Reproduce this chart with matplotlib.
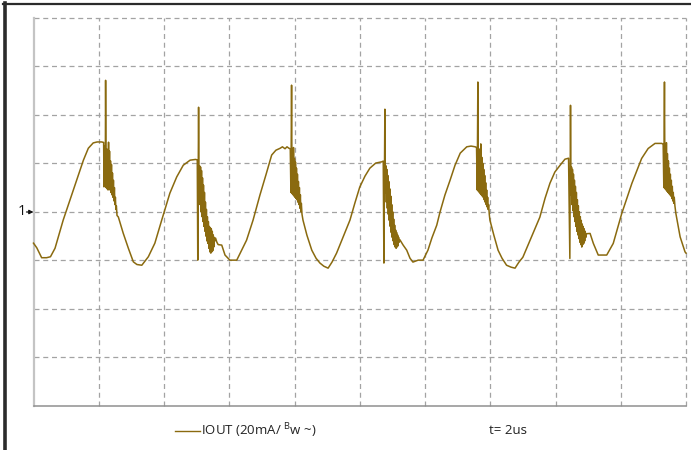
import matplotlib
matplotlib.use("Agg")
import matplotlib.pyplot as plt
from matplotlib.lines import Line2D

# Scope capture of the output current, 2 us/div and 20 mA/div.
# One line per stretch of the trace: ramps, then the ringing after each switching edge.
time_us = [
    0.00, 0.10, 0.25, 0.40, 0.52, 0.66, 0.91, 1.22, 1.53, 1.68, 1.83, 1.95, 2.09, 2.15,
    2.16, 2.18, 2.20, 2.21, 2.225, 2.24, 2.255, 2.27, 2.285, 2.30, 2.315, 2.33, 2.345, 2.36, 2.375,
    2.39, 2.405, 2.42, 2.435, 2.45, 2.465, 2.48, 2.495, 2.51, 2.525, 2.54, 2.56,
    2.60, 2.75, 2.91, 3.06, 3.17, 3.32, 3.52, 3.72, 3.93, 4.18, 4.39, 4.59, 4.80, 4.97,
    5.02, 5.035, 5.06, 5.075, 5.09, 5.105, 5.12, 5.135, 5.15, 5.165, 5.18, 5.195, 5.21, 5.225,
    5.24, 5.255, 5.27, 5.285, 5.30, 5.315, 5.33, 5.345, 5.36, 5.375, 5.39, 5.405, 5.42, 5.435,
    5.45, 5.465, 5.48, 5.495, 5.51, 5.525, 5.54, 5.56, 5.58, 5.62, 5.66,
    5.77, 5.87, 6.02, 6.23, 6.38, 6.53, 6.73, 6.94, 7.13, 7.30, 7.43, 7.56, 7.63, 7.71, 7.77, 7.83, 7.87,
    7.89, 7.91, 7.925, 7.94, 7.955, 7.97, 7.985, 8.00, 8.015, 8.03, 8.045, 8.06, 8.075, 8.09,
    8.105, 8.12, 8.135, 8.15, 8.165, 8.18, 8.195, 8.21, 8.23,
    8.26, 8.38, 8.53, 8.66, 8.78, 8.90, 9.03, 9.15, 9.29, 9.49, 9.70, 9.85, 10.00, 10.16, 10.31,
    10.49, 10.67, 10.72,
    10.74, 10.77, 10.785, 10.80, 10.815, 10.83, 10.845, 10.86, 10.875, 10.89, 10.905, 10.92,
    10.935, 10.95, 10.965, 10.98, 10.995, 11.01, 11.025, 11.04, 11.055, 11.07, 11.085, 11.10,
    11.115, 11.13, 11.145, 11.16, 11.175, 11.19, 11.21, 11.23,
    11.33, 11.44, 11.54, 11.63, 11.79, 11.94, 12.09, 12.21, 12.36, 12.46, 12.61, 12.77, 12.92,
    13.08, 13.28, 13.41, 13.54, 13.58,
    13.60, 13.62, 13.635, 13.65, 13.665, 13.68, 13.695, 13.71, 13.725, 13.74, 13.755, 13.77,
    13.785, 13.80, 13.815, 13.83, 13.845, 13.86, 13.875, 13.89, 13.905, 13.92, 13.935, 13.95, 13.97,
    13.99, 14.11, 14.24, 14.36, 14.50, 14.64, 14.76, 14.88, 15.00, 15.22, 15.52, 15.68, 15.83,
    15.98, 16.14, 16.29, 16.40,
    16.44, 16.46, 16.475, 16.49, 16.505, 16.52, 16.535, 16.55, 16.565, 16.58, 16.595, 16.61,
    16.625, 16.64, 16.655, 16.67, 16.685, 16.70, 16.715, 16.73, 16.745, 16.76, 16.775, 16.79,
    16.805, 16.82, 16.835, 16.85, 16.865, 16.88, 16.895, 16.91, 16.93, 16.95,
    17.06, 17.16, 17.31, 17.57, 17.77, 18.03, 18.34, 18.64, 18.84, 19.05, 19.26, 19.30,
    19.32, 19.34, 19.355, 19.37, 19.385, 19.40, 19.415, 19.43, 19.445, 19.46, 19.475, 19.49,
    19.505, 19.52, 19.535, 19.55, 19.565, 19.58, 19.595, 19.61, 19.625, 19.64, 19.66,
    19.69, 19.82, 19.97, 20.00,
]
iout_ma = [
    -12.9, -14.8, -18.9, -18.9, -18.5, -15.0, -3.4, 8.9, 21.3, 26.2, 28.4, 28.8, 28.8, 28.6,
    10.3, 27.0, 12.0, 54.2, 10.0, 26.0, 9.5, 24.0, 9.0, 28.7, 10.5, 25.0, 9.0, 21.0, 8.0,
    19.5, 7.0, 16.0, 6.0, 13.0, 4.5, 10.0, 3.0, 6.0, 1.0, 2.5, -1.5,
    -2.1, -8.8, -15.1, -20.6, -21.7, -22.0, -18.5, -12.9, -3.4, 7.7, 14.4, 19.2, 21.3, 21.6,
    21.4, -19.9, 43.1, 6.0, 19.0, 3.0, 18.5, 0.0, 17.0, -2.0, 14.0, -4.0, 11.0, -6.0,
    8.0, -8.0, 4.0, -10.0, 1.0, -12.0, -2.0, -13.0, -4.0, -15.0, -6.0, -16.5, -6.5, -17.0,
    -7.0, -16.5, -8.0, -16.0, -9.5, -14.5, -10.5, -12.0, -10.8, -12.5, -13.5,
    -13.7, -17.8, -19.9, -19.9, -15.8, -11.7, -3.4, 6.9, 15.5, 23.4, 25.4, 26.2, 26.8, 26.0, 26.8, 26.2, 26.0,
    8.0, 52.2, 7.5, 25.4, 7.0, 26.5, 6.5, 22.0, 6.0, 20.5, 5.5, 18.0, 5.0, 15.5,
    4.0, 12.5, 3.0, 10.0, 1.5, 7.0, 0.0, 3.5, -1.0,
    -3.4, -9.6, -15.8, -19.1, -21.1, -22.4, -23.2, -20.7, -17.0, -10.4, -3.4, 3.6, 10.2, 14.7, 18.0,
    20.1, 20.6, 20.9,
    -21.1, 42.3, 8.0, 19.0, 4.0, 17.5, 1.5, 15.0, -1.0, 12.5, -3.5, 9.5,
    -6.0, 6.5, -8.5, 3.0, -10.5, 0.0, -12.0, -3.0, -13.5, -5.5, -14.5, -7.5,
    -15.0, -8.5, -14.5, -9.5, -14.0, -10.5, -12.5, -11.5,
    -13.7, -15.8, -19.1, -20.7, -19.9, -19.9, -15.8, -10.8, -5.5, -0.1, 6.9, 13.1, 19.2,
    24.2, 26.8, 27.1, 26.8, 26.5,
    9.0, 53.5, 8.5, 26.0, 8.0, 25.0, 7.5, 28.0, 7.0, 22.5, 6.5, 20.0,
    6.0, 17.5, 5.0, 15.0, 4.0, 12.0, 3.0, 9.0, 2.0, 6.0, 1.0, 3.0, -1.0,
    -3.4, -9.6, -15.8, -19.1, -22.0, -22.8, -23.2, -20.7, -18.7, -11.7, -2.2, 5.6, 11.8,
    16.4, 19.2, 21.7, 22.1,
    -19.2, 43.9, 7.0, 18.5, 3.0, 17.5, 0.5, 15.5, -2.0, 13.0, -4.0, 10.5,
    -6.0, 8.0, -8.0, 5.0, -9.5, 2.5, -11.0, 0.0, -12.5, -2.0, -13.5, -3.5,
    -14.5, -5.0, -13.5, -6.0, -13.0, -7.0, -12.0, -8.0, -10.5, -9.0,
    -8.9, -13.0, -17.8, -17.8, -13.0, -0.7, 11.7, 22.0, 26.1, 28.2, 28.2, 27.8,
    10.0, 53.5, 9.5, 26.0, 9.0, 28.5, 8.5, 24.0, 8.0, 21.0, 7.5, 18.0,
    7.0, 15.5, 6.5, 13.0, 5.5, 10.5, 4.5, 8.0, 3.5, 6.0, 2.5,
    -0.7, -10.3, -16.5, -17.0,
]
assert len(time_us) == len(iout_ma)

x_ticks = [0, 2, 4, 6, 8, 10, 12, 14, 16, 18, 20]
y_ticks = [-80, -60, -40, -20, 0, 20, 40, 60, 80]

trace_color = "#8a6a0f"
grid_color = "#a3a3a3"

plt.rcParams["font.family"] = ["Open Sans", "DejaVu Sans"]

W, H = 691, 450
fig = plt.figure(figsize=(W / 100, H / 100), dpi=100)
ax = fig.add_axes([33.5 / W, 1 - 406 / H, (686 - 33.5) / W, (406 - 17.7) / H])
ax.set_xlim(x_ticks[0], x_ticks[-1])
ax.set_ylim(y_ticks[0], y_ticks[-1])

# dashed graticule, including the top and right edges
for xv in x_ticks[1:]:
    ax.axvline(xv, color=grid_color, lw=0.9, ls=(0, (4, 3)), clip_on=False, zorder=1)
for yv in y_ticks[1:]:
    ax.axhline(yv, color=grid_color, lw=0.9, ls=(0, (4, 3)), clip_on=False, zorder=1)

for side in ("top", "right"):
    ax.spines[side].set_visible(False)
ax.spines["left"].set_color("#c4c4c4")
ax.spines["left"].set_linewidth(1.6)
ax.spines["bottom"].set_color("#8f8f8f")
ax.spines["bottom"].set_linewidth(1.1)
ax.set_xticks([])
ax.set_yticks([])

ax.plot(time_us, iout_ma, color=trace_color, lw=1.1, zorder=3, clip_on=False)

# channel reference marker
fig.text(18 / W, 1 - 212 / H, "1", fontsize=10.5, ha="left", va="center", color="#111111")
ax.annotate("", xy=(33.5 / W, 1 - 212 / H), xytext=(26.5 / W, 1 - 212 / H),
            xycoords="figure fraction", textcoords="figure fraction",
            arrowprops=dict(arrowstyle="-|>", color="#111111", lw=0.9,
                            mutation_scale=6, shrinkA=0, shrinkB=0))

# legend row under the graticule
fig.add_artist(Line2D([175 / W, 200 / W], [1 - 431 / H, 1 - 431 / H],
                      color=trace_color, lw=1.0))
fig.text(201 / W, 1 - 431 / H, "IOUT (20mA/ $\\mathregular{^{B}}$w ~)",
         fontsize=9.5, ha="left", va="center", color="#222222")
fig.text(489 / W, 1 - 431 / H, "t= 2us", fontsize=9.5, ha="left", va="center",
         color="#222222")

# frame edges along the top and left of the picture
fig.add_artist(Line2D([3 / W, 1], [1 - 3.5 / H, 1 - 3.5 / H], color="#2b2b2b", lw=1.6))
fig.add_artist(Line2D([5 / W, 5 / W], [0, 1 - 3 / H], color="#2b2b2b", lw=2.6))

fig.savefig("out.png", dpi=100)
